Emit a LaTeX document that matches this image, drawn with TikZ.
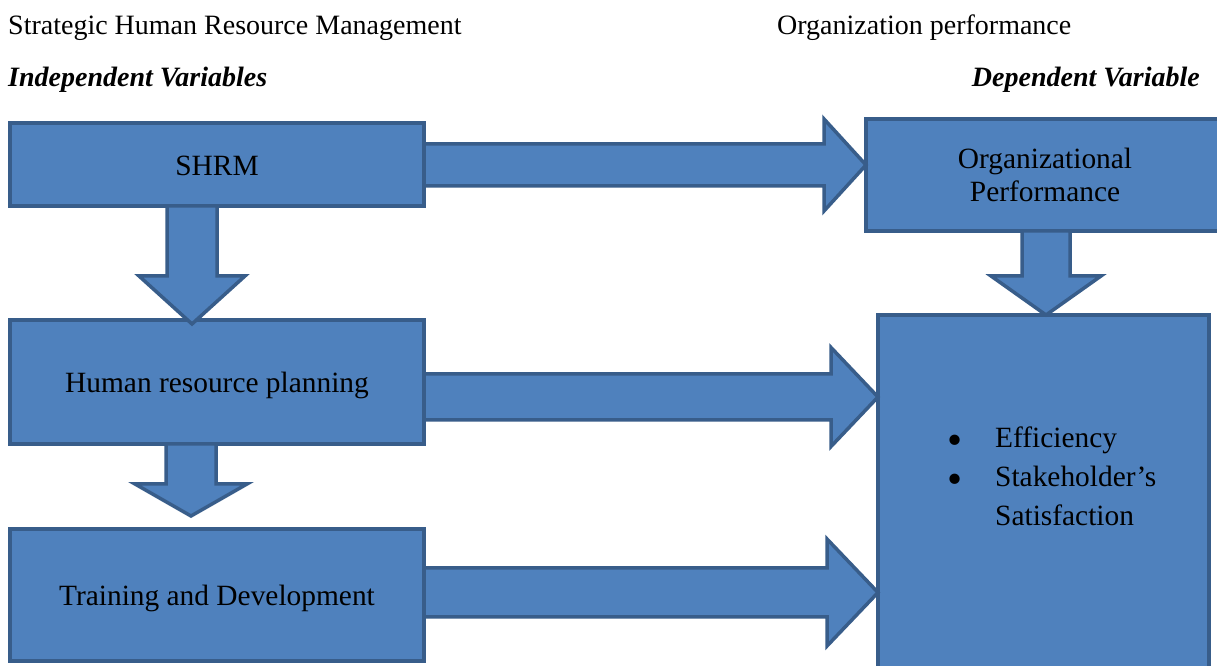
\documentclass[tikz,border=0pt]{standalone}
\usepackage{fontspec}
\setmainfont{Liberation Serif}
\usetikzlibrary{calc}
\definecolor{boxfill}{HTML}{4F81BD}
\definecolor{boxline}{HTML}{385D8A}

% horizontal block arrow: source, target, y centre, half shaft, half head, head length
\newcommand\blockright[6]{%
  \draw[blockarrow] let \p1=(#1.east), \p2=(#2.west) in
    (\x1,{#3pt+#4pt}) -- ({\x2-#6pt},{#3pt+#4pt}) -- ({\x2-#6pt},{#3pt+#5pt})
    -- (\x2,#3pt) -- ({\x2-#6pt},{#3pt-#5pt}) -- ({\x2-#6pt},{#3pt-#4pt})
    -- (\x1,{#3pt-#4pt}) -- cycle;}
% vertical block arrow: source, target, x centre, half shaft, half head, head length, tip offset
\newcommand\blockdown[7]{%
  \draw[blockarrow] let \p1=(#1.south), \p2=(#2.north) in
    ({#3pt-#4pt},\y1) -- ({#3pt-#4pt},{\y2+(#7pt)+(#6pt)}) -- ({#3pt-#5pt},{\y2+(#7pt)+(#6pt)})
    -- (#3pt,{\y2+(#7pt)}) -- ({#3pt+#5pt},{\y2+(#7pt)+(#6pt)}) -- ({#3pt+#4pt},{\y2+(#7pt)+(#6pt)})
    -- ({#3pt+#4pt},\y1) -- cycle;}
% list bullet, a little larger than the text's own
\newcommand\bigbullet{{\fontsize{43}{43}\selectfont\raisebox{-7pt}{\textbullet}}}

\begin{document}
\begin{tikzpicture}[x=1pt,y=1pt,
  every node/.style={font=\fontsize{29.4}{33}\selectfont},
  panel/.style={draw=boxline, fill=boxfill, line width=3.5pt, line join=miter,
    inner sep=0pt, outer sep=0pt, text=black},
  oneline/.style={panel, text height=27pt, text depth=5pt},
  blockarrow/.style={draw=boxline, fill=boxfill, line width=3.5pt, line join=miter},
  heading/.style={inner sep=0pt, anchor=base west, font=\fontsize{28}{33}\selectfont},
  item/.style={inner sep=0pt, anchor=base west}]
\useasboundingbox (0,0) rectangle (1217,666);
\clip (0,0) rectangle (1217,666);
\fill[white] (0,0) rectangle (1217,666);

% headings
\node[heading] (h1) at (8,631) {Strategic Human Resource Management};
\node[heading] (h2) at (777,631) {Organization performance};
\node[heading] (h3) at (8,579) {\bfseries\itshape Independent Variables};
\node[heading, anchor=base east] (h4) at (1200,579) {\bfseries\itshape Dependent Variable};

% boxes
\node[oneline, minimum width=414pt, minimum height=83pt] (shrm) at (217,501.5) {SHRM};
\node[oneline, minimum width=414pt, minimum height=124pt] (hrp) at (217,284) {Human resource planning};
\node[oneline, minimum width=414pt, minimum height=132pt] (td) at (217,71) {Training and Development};
\node[panel, minimum width=358pt, minimum height=112pt, align=center] (op) at (1045,491) {Organizational\\Performance};
\node[panel, minimum width=331pt, minimum height=357pt] (res) at (1043.5,172.5) {};

% outcome list
\node[inner sep=0pt, anchor=base] (b1) at (955,218) {\bigbullet};
\node[item] (t1) at (995,218) {Efficiency};
\node[inner sep=0pt, anchor=base] (b2) at (955,179) {\bigbullet};
\node[item] (t2) at (995,179) {Stakeholder’s};
\node[item] (t3) at (995,140) {Satisfaction};

% block arrows
\blockright{shrm}{op}{501}{21}{46}{42}
\blockright{hrp}{res}{269}{23}{49.5}{47}
\blockright{td}{res}{73.5}{24.5}{53.5}{51}
\blockdown{shrm}{hrp}{192}{25}{53}{48}{-4}
\blockdown{hrp}{td}{191}{25}{56}{32}{13}
\blockdown{op}{res}{1046}{24}{55}{39}{0}
\end{tikzpicture}
\end{document}
